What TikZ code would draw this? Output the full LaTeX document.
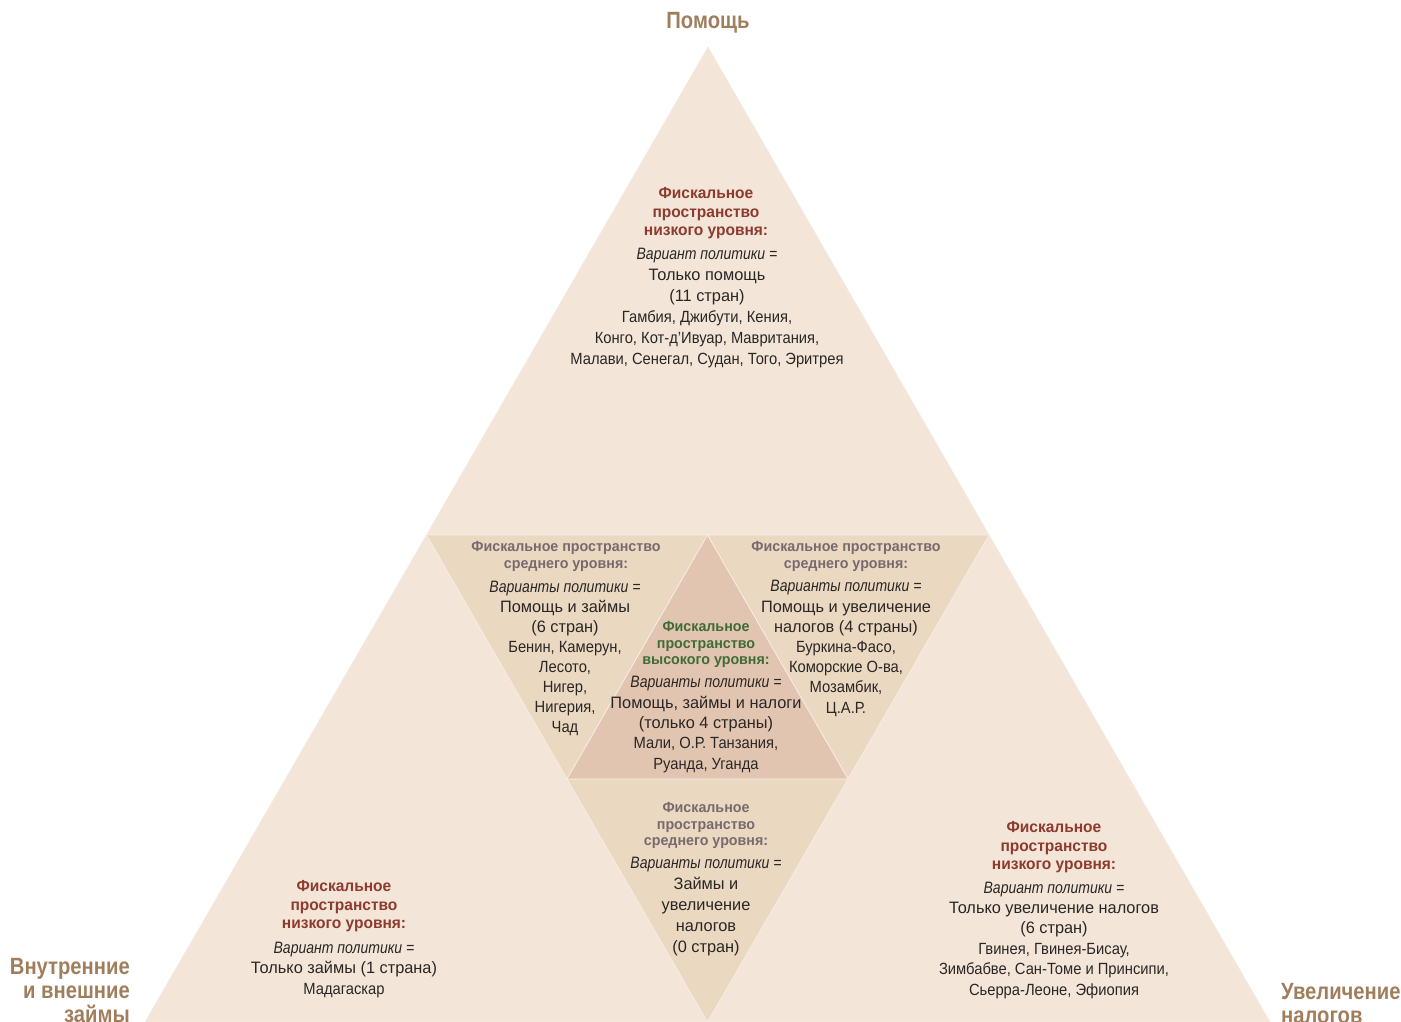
\documentclass[tikz,border=0pt]{standalone}
\usepackage{fontspec}
\setmainfont{Liberation Sans}
\newfontfamily\ctryfont[FakeStretch=0.91]{Liberation Sans}
\newfontfamily\itfont[FakeStretch=0.85]{Liberation Sans}
\newfontfamily\polfont[FakeStretch=0.99]{Liberation Sans}
\newfontfamily\headfont[FakeStretch=0.97]{Liberation Sans}
\newfontfamily\cornerfont[FakeStretch=0.86]{Liberation Sans}
\definecolor{lightfill}{HTML}{F3E6D8}
\definecolor{midfill}{HTML}{EBD8C1}
\definecolor{centerfill}{HTML}{E2C5B0}
\definecolor{edgecol}{HTML}{F6ECE2}
\definecolor{lowred}{HTML}{8E3B2F}
\definecolor{midgray}{HTML}{78696F}
\definecolor{highgreen}{HTML}{3F6B37}
\definecolor{cornerbrown}{HTML}{A07E5B}
\definecolor{bodytext}{HTML}{2A2626}
\newcommand{\itl}[1]{{\itfont\itshape\fontsize{16.5}{10}\selectfont #1}}
\newcommand{\pol}[1]{{\polfont\fontsize{16.5}{10}\selectfont #1}}
\newcommand{\ctry}[1]{{\ctryfont\fontsize{16.2}{10}\selectfont #1}}
\tikzset{
  region/.style={draw=edgecol, line width=0.8pt},
  lowhead/.style={align=center, text=lowred, font=\headfont\bfseries\fontsize{16}{18.5}\selectfont, inner sep=0pt},
  midhead/.style={align=center, text=midgray, font=\headfont\bfseries\fontsize{14.7}{16.8}\selectfont, inner sep=0pt},
  highhead/.style={align=center, text=highgreen, font=\headfont\bfseries\fontsize{14.7}{16.5}\selectfont, inner sep=0pt},
  bodyblock/.style={align=center, text=bodytext, font=\fontsize{16}{#1}\selectfont, inner sep=0pt},
  cornerlabel/.style={text=cornerbrown, font=\cornerfont\bfseries\fontsize{23.5}{24}\selectfont, inner sep=0pt}
}
\begin{document}
\begin{tikzpicture}[x=1pt,y=-1pt]
\useasboundingbox (0,0) rectangle (1401,1021);
\clip (0,0) rectangle (1401,1021);
% vertices
\coordinate (A) at (708,47);
\coordinate (L) at (426.5,535);
\coordinate (R) at (989,535);
\coordinate (M) at (707.5,535);
\coordinate (BL) at (145,1022);
\coordinate (BR) at (1270,1022);
\coordinate (BM) at (707.5,1022);
\coordinate (CL) at (567,779);
\coordinate (CR) at (848,779);
% outer regions
\fill[lightfill] (A) -- (BR) -- (BL) -- cycle;
\draw[region, fill=lightfill] (A) -- (R) -- (L) -- cycle;
\draw[region, fill=lightfill] (L) -- (BM) -- (BL) -- cycle;
\draw[region, fill=lightfill] (R) -- (BR) -- (BM) -- cycle;
% inner inverted triangles
\draw[region, fill=midfill] (L) -- (M) -- (CL) -- cycle;
\draw[region, fill=midfill] (M) -- (R) -- (CR) -- cycle;
\draw[region, fill=midfill] (CL) -- (CR) -- (BM) -- cycle;
\draw[region, fill=centerfill] (M) -- (CR) -- (CL) -- cycle;

% corner labels
\node[cornerlabel] (aid) at (708,23) {Помощь};
\node[cornerlabel, align=right, anchor=east] (loans) at (130,991) {Внутренние\\и внешние\\займы};
\node[cornerlabel, align=left, anchor=west] (taxes) at (1281,1004) {Увеличение\\налогов};

% top block
\node[lowhead] (tophead) at (706,213.5) {Фискальное\\пространство\\низкого уровня:};
\node[bodyblock=21] (topbody) at (707,307.5) {\itl{Вариант политики =}\\\pol{Только помощь}\\\pol{(11 стран)}\\\ctry{Гамбия, Джибути, Кения,}\\\ctry{Конго, Кот-д’Ивуар, Мавритания,}\\\ctry{Малави, Сенегал, Судан, Того, Эритрея}};

% left inverted block
\node[midhead] (lefthead) at (566,556.5) {Фискальное пространство\\среднего уровня:};
\node[bodyblock=20.1] (leftbody) at (565,658.5) {\itl{Варианты политики =}\\\pol{Помощь и займы}\\\pol{(6 стран)}\\\ctry{Бенин, Камерун,}\\\ctry{Лесото,}\\\ctry{Нигер,}\\\ctry{Нигерия,}\\\ctry{Чад}};

% right inverted block
\node[midhead] (righthead) at (846,556.5) {Фискальное пространство\\среднего уровня:};
\node[bodyblock=20.2] (rightbody) at (846,648.5) {\itl{Варианты политики =}\\\pol{Помощь и увеличение}\\\pol{налогов (4 страны)}\\\ctry{Буркина-Фасо,}\\\ctry{Коморские О-ва,}\\\ctry{Мозамбик,}\\\ctry{Ц.А.Р.}};

% center block
\node[highhead] (centerhead) at (706,644.5) {Фискальное\\пространство\\высокого уровня:};
\node[bodyblock=20.3] (centerbody) at (706,724.5) {\itl{Варианты политики =}\\\pol{Помощь, займы и налоги}\\\pol{(только 4 страны)}\\\ctry{Мали, О.Р. Танзания,}\\\ctry{Руанда, Уганда}};

% bottom inverted block
\node[midhead] (bottomhead) at (706,825.5) {Фискальное\\пространство\\среднего уровня:};
\node[bodyblock=21] (bottombody) at (706,907) {\itl{Варианты политики =}\\\pol{Займы и}\\\pol{увеличение}\\\pol{налогов}\\\pol{(0 стран)}};

% bottom-left block
\node[lowhead] (blhead) at (344,906.5) {Фискальное\\пространство\\низкого уровня:};
\node[bodyblock=20.5] (blbody) at (344,969.5) {\itl{Вариант политики =}\\\pol{Только займы (1 страна)}\\\ctry{Мадагаскар}};

% bottom-right block
\node[lowhead] (brhead) at (1054,847.5) {Фискальное\\пространство\\низкого уровня:};
\node[bodyblock=20.4] (brbody) at (1054,940) {\itl{Вариант политики =}\\\pol{Только увеличение налогов}\\\pol{(6 стран)}\\\ctry{Гвинея, Гвинея-Бисау,}\\\ctry{Зимбабве, Сан-Томе и Принсипи,}\\\ctry{Сьерра-Леоне, Эфиопия}};
\end{tikzpicture}
\end{document}
